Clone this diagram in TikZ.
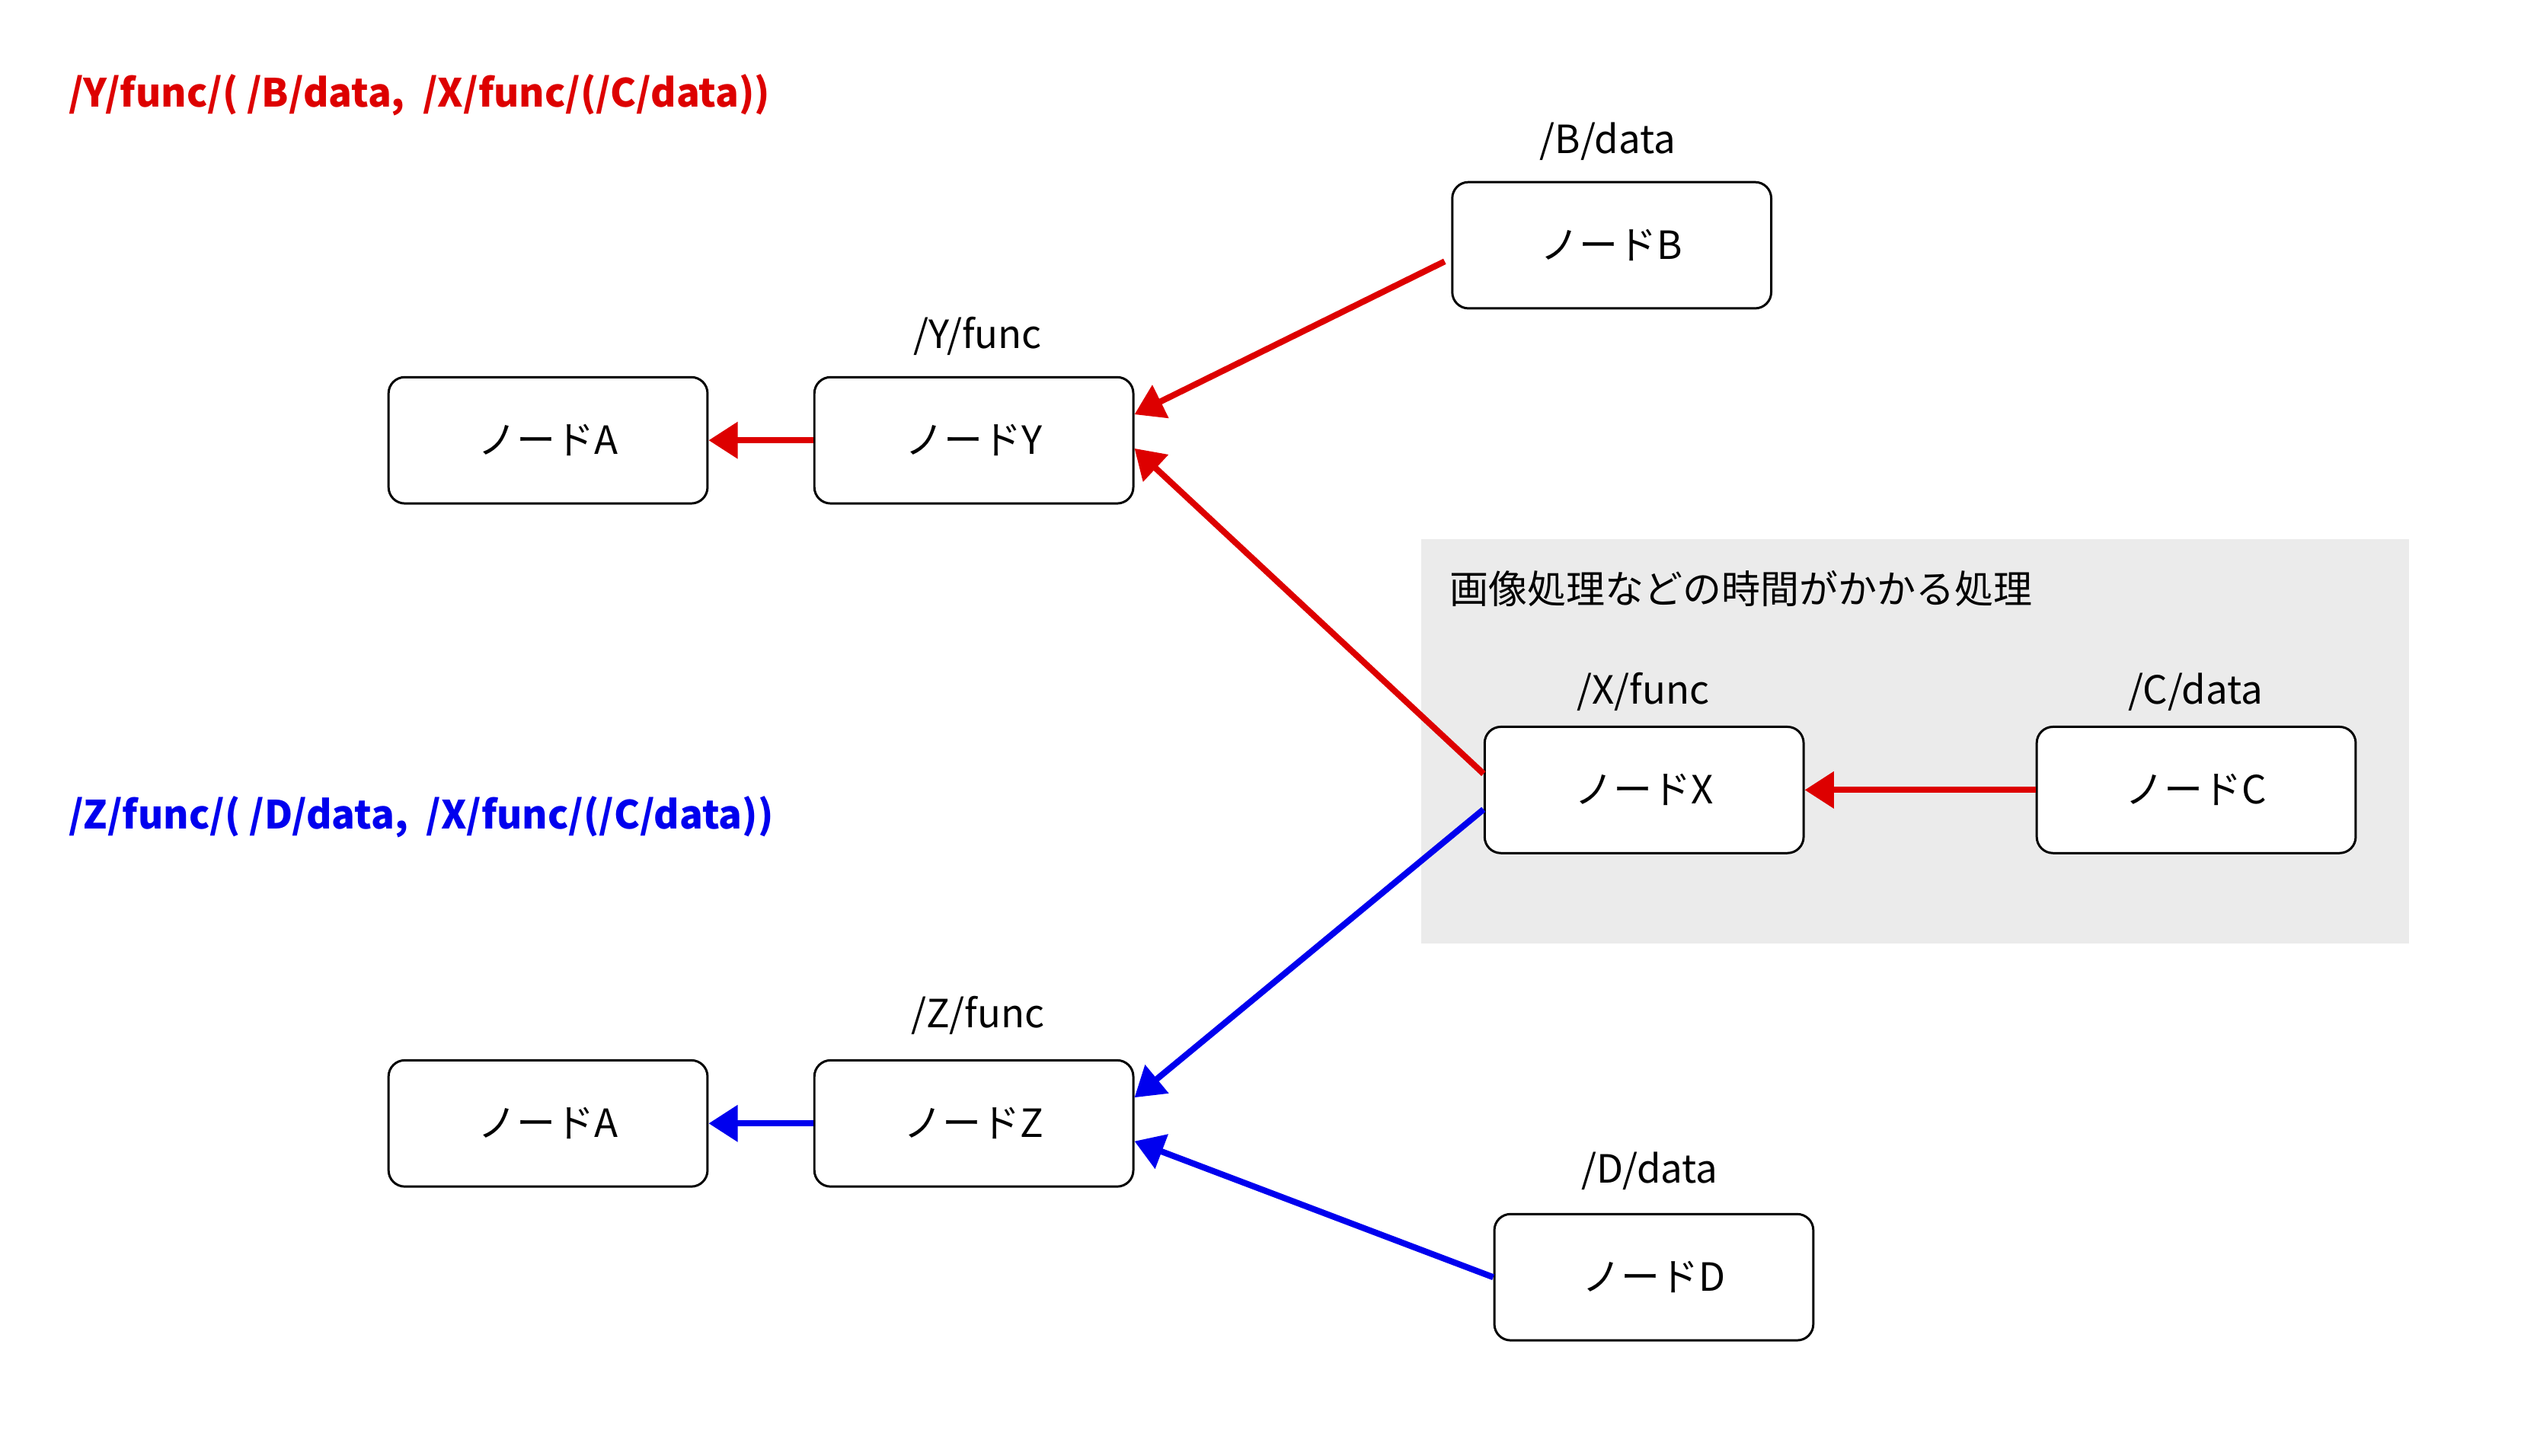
\documentclass[tikz,border=0pt]{standalone}
\usepackage{fontspec}
\setmainfont{Noto Sans CJK JP}
\usetikzlibrary{arrows.meta,positioning}
\definecolor{pathred}{HTML}{DD0000}
\definecolor{pathblue}{HTML}{0000EE}
\definecolor{slowgray}{HTML}{EBEBEB}

\tikzset{
  nodebox/.style={draw,rounded corners=5pt,line width=0.7pt,fill=white,
    minimum width=98.5pt,minimum height=39pt,inner sep=0pt,
    font=\fontsize{12}{14}\selectfont},
  topiclbl/.style={inner sep=0pt,anchor=base,font=\fontsize{12}{14}\selectfont},
  pathtitle/.style={inner sep=0pt,anchor=base west,font=\bfseries\fontsize{12}{14}\selectfont},
  redflow/.style={pathred,line width=1.9pt,-{Triangle[length=9pt,width=11pt]}},
  blueflow/.style={pathblue,line width=1.9pt,-{Triangle[length=9pt,width=11pt]}}
}

\begin{document}
\begin{tikzpicture}[x=0.5pt,y=-0.5pt]
  \useasboundingbox (0,0) rectangle (1567,899);

  % slow processing area
  \fill[slowgray] (878,333) rectangle (1488,583);
  \node[topiclbl,anchor=base west] (slowlbl) at (895,373) {画像処理などの時間がかかる処理};

  % titles
  \node[pathtitle,text=pathred] (redpath) at (42,66) {/Y/func/( /B/data,\ \ /X/func/(/C/data))};
  \node[pathtitle,text=pathblue] (bluepath) at (42,512) {/Z/func/( /D/data,\ \ /X/func/(/C/data))};

  % nodes
  \node[nodebox] (A1) at (338.5,272) {ノードA};
  \node[nodebox] (Y) at (601.5,272) {ノードY};
  \node[nodebox] (B) at (995.5,151.5) {ノードB};
  \node[nodebox] (X) at (1015.5,488) {ノードX};
  \node[nodebox] (C) at (1356.5,488) {ノードC};
  \node[nodebox] (A2) at (338.5,694) {ノードA};
  \node[nodebox] (Z) at (601.5,694) {ノードZ};
  \node[nodebox] (D) at (1021.5,789) {ノードD};

  % topic names
  \node[topiclbl] (Ylbl) at (604,215) {/Y/func};
  \node[topiclbl] (Blbl) at (993,95) {/B/data};
  \node[topiclbl] (Xlbl) at (1015,435) {/X/func};
  \node[topiclbl] (Clbl) at (1356,435) {/C/data};
  \node[topiclbl] (Zlbl) at (604,635) {/Z/func};
  \node[topiclbl] (Dlbl) at (1019,731) {/D/data};

  % red flow
  \draw[redflow] (Y.west) -- (A1.east);
  \draw[redflow] ([xshift=-2pt,yshift=-5pt]B.west) -- ([yshift=8pt]Y.east);
  \draw[redflow] ([yshift=5pt]X.west) -- ([yshift=-2.5pt]Y.east);
  \draw[redflow] (C.west) -- (X.east);

  % blue flow
  \draw[blueflow] ([yshift=-6pt]X.west) -- ([yshift=8pt]Z.east);
  \draw[blueflow] (D.west) -- ([yshift=-5.5pt]Z.east);
  \draw[blueflow] (Z.west) -- (A2.east);
\end{tikzpicture}
\end{document}
